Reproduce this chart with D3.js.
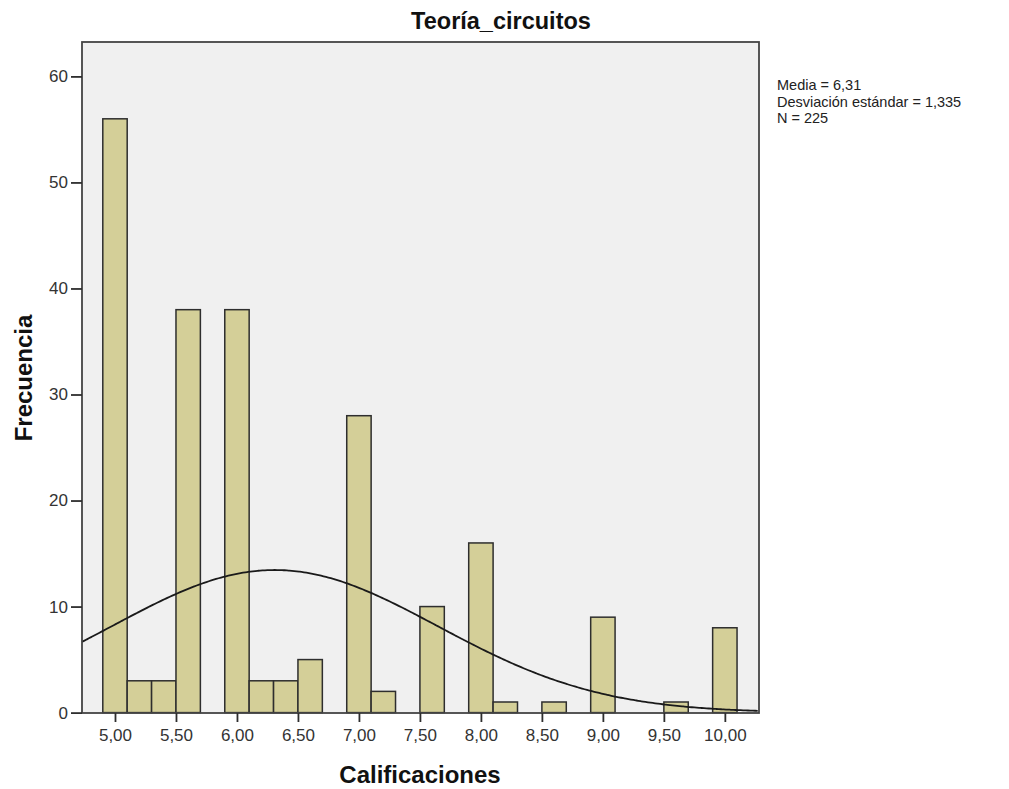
<!DOCTYPE html>
<html>
<head>
<meta charset="utf-8">
<script src="https://cdn.jsdelivr.net/npm/d3@7"></script>
<style>
  html, body { margin: 0; padding: 0; background: #fff; }
  svg { display: block; font-family: Arial, "Liberation Sans", sans-serif; }
</style>
</head>
<body>
<svg id="chart" width="1009" height="789"></svg>
<script>
// Histogram of grades (bin width 0.2) with a fitted normal curve
const binEdges = [4.9, 5.1, 5.3, 5.5, 5.7, 5.9, 6.1, 6.3, 6.5, 6.7, 6.9, 7.1, 7.3, 7.5,
                  7.7, 7.9, 8.1, 8.3, 8.5, 8.7, 8.9, 9.1, 9.3, 9.5, 9.7, 9.9, 10.1];
const counts   = [56, 3, 3, 38, 0, 38, 3, 3, 5, 0, 28, 2, 0, 10,
                  0, 16, 1, 0, 1, 0, 9, 0, 0, 1, 0, 8];
const xTicks = [5, 5.5, 6, 6.5, 7, 7.5, 8, 8.5, 9, 9.5, 10];
const yTicks = [0, 10, 20, 30, 40, 50, 60];
const mean = 6.31, sd = 1.335, n = 225, binWidth = 0.2;
const statsLines = ["Media = 6,31", "Desviación estándar = 1,335", "N = 225"];

const svg = d3.select("#chart");
const plot = { left: 82, right: 759, top: 42, bottom: 713 };

const x = d3.scaleLinear().domain([4.7295, 10.28]).range([plot.left, plot.right]);
const y = d3.scaleLinear().domain([0, 60]).range([712.6, 76.4]);

// plot background
svg.append("rect")
  .attr("x", plot.left).attr("y", plot.top)
  .attr("width", plot.right - plot.left).attr("height", plot.bottom - plot.top)
  .attr("fill", "#f0f0f0");

// bars
const bins = counts.map((c, i) => ({ x0: binEdges[i], x1: binEdges[i + 1], c }));
svg.append("g").selectAll("rect")
  .data(bins.filter(d => d.c > 0))
  .join("rect")
  .attr("x", d => x(d.x0))
  .attr("y", d => y(d.c))
  .attr("width", d => x(d.x1) - x(d.x0))
  .attr("height", d => y(0) - y(d.c))
  .attr("fill", "#d4cf98")
  .attr("stroke", "#2e2e2e")
  .attr("stroke-width", 1.5);

// normal curve scaled to counts
const scale = n * binWidth / (sd * Math.sqrt(2 * Math.PI));
const curvePts = d3.range(4.7295, 10.2801, 0.02).map(v => [v, scale * Math.exp(-0.5 * ((v - mean) / sd) ** 2)]);
svg.append("path")
  .datum(curvePts)
  .attr("fill", "none")
  .attr("stroke", "#1a1a1a")
  .attr("stroke-width", 1.8)
  .attr("d", d3.line().x(d => x(d[0])).y(d => y(d[1])).curve(d3.curveBasis));

// frame
svg.append("rect")
  .attr("x", plot.left).attr("y", plot.top)
  .attr("width", plot.right - plot.left).attr("height", plot.bottom - plot.top)
  .attr("fill", "none").attr("stroke", "#444").attr("stroke-width", 1.8);

const fmt = v => v.toFixed(2).replace(".", ",");

// x axis
const xAxis = svg.append("g")
  .attr("transform", `translate(0,${plot.bottom})`)
  .call(d3.axisBottom(x).tickValues(xTicks).tickFormat(fmt).tickSize(9).tickPadding(7));
xAxis.select(".domain").remove();
xAxis.selectAll(".tick line").attr("stroke", "#2e2e2e").attr("stroke-width", 1.8);
xAxis.selectAll(".tick text").attr("font-size", 17).attr("fill", "#333")
  .attr("font-family", "Arial, 'Liberation Sans', sans-serif");

// y axis
const yAxis = svg.append("g")
  .attr("transform", `translate(${plot.left},0)`)
  .call(d3.axisLeft(y).tickValues(yTicks).tickSize(11).tickPadding(3));
yAxis.select(".domain").remove();
yAxis.selectAll(".tick line").attr("stroke", "#2e2e2e").attr("stroke-width", 1.8);
yAxis.selectAll(".tick text").attr("font-size", 17).attr("fill", "#333")
  .attr("font-family", "Arial, 'Liberation Sans', sans-serif");

// title and axis labels
svg.append("text")
  .attr("x", 501).attr("y", 29)
  .attr("text-anchor", "middle")
  .attr("font-size", 23.5).attr("font-weight", "bold").attr("fill", "#111")
  .text("Teoría_circuitos");

svg.append("text")
  .attr("x", 420).attr("y", 783)
  .attr("text-anchor", "middle")
  .attr("font-size", 24).attr("font-weight", "bold").attr("fill", "#111")
  .text("Calificaciones");

svg.append("text")
  .attr("transform", "translate(32,378) rotate(-90)")
  .attr("text-anchor", "middle")
  .attr("font-size", 24).attr("font-weight", "bold").attr("fill", "#111")
  .text("Frecuencia");

// summary statistics
svg.append("g").selectAll("text")
  .data(statsLines)
  .join("text")
  .attr("x", 777)
  .attr("y", (d, i) => 90 + i * 16.5)
  .attr("font-size", 14.5).attr("fill", "#222")
  .text(d => d);
</script>
</body>
</html>
